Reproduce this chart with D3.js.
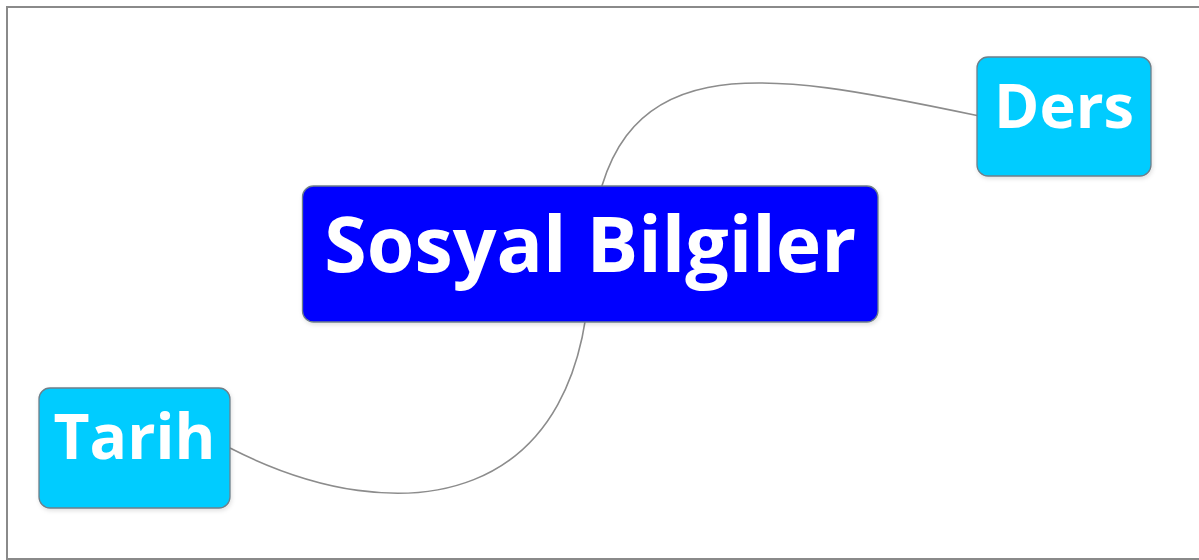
<!DOCTYPE html>
<html>
<head>
<meta charset="utf-8">
<script src="https://cdn.jsdelivr.net/npm/d3@7"></script>
<style>
html,body{margin:0;padding:0;background:#fff;overflow:hidden;}
svg{display:block;}
</style>
</head>
<body>
<svg id="chart" width="1199" height="560"></svg>
<script>
// ---- data ----
const nodeLabels = ["Sosyal Bilgiler", "Ders", "Tarih"];
const nodeParents = [-1, 0, 0];
const nodeLevels = [0, 1, 1];

// ---- layout (box geometry in px) ----
const boxX = [302.5, 977, 39];
const boxY = [186, 57, 388];
const boxW = [575.5, 174, 191];
const boxH = [136, 119, 120];
const textW = [532, 140, 162];
const textBase = [272, 128, 459];
// link shapes: cubic control points relative to parent centre -> child anchor
const linkAnchors = [null, [977, 115.5], [230, 448]];
const linkC1 = [null, [605, 40], [590, 510]];
const linkC2 = [null, [760, 70], [400, 535]];

const fillByLevel = ["#0000ff", "#00ccff"];

const svg = d3.select("#chart");

const defs = svg.append("defs");
const f = defs.append("filter").attr("id", "sh").attr("x", "-10%").attr("y", "-10%").attr("width", "120%").attr("height", "130%");
f.append("feDropShadow").attr("dx", 1).attr("dy", 2).attr("stdDeviation", 2).attr("flood-color", "#000").attr("flood-opacity", 0.12);

// frame
svg.append("rect")
  .attr("x", 7).attr("y", 7).attr("width", 1210).attr("height", 552)
  .attr("fill", "none").attr("stroke", "#8a8a8a").attr("stroke-width", 2);

const nodes = nodeLabels.map((label, i) => ({
  i, label, parent: nodeParents[i], level: nodeLevels[i],
  x: boxX[i], y: boxY[i], w: boxW[i], h: boxH[i],
  cx: boxX[i] + boxW[i] / 2, cy: boxY[i] + boxH[i] / 2
}));

// links
const linkG = svg.append("g");
nodes.filter(n => n.parent >= 0).forEach(n => {
  const p = nodes[n.parent];
  const path = d3.path();
  path.moveTo(p.cx, p.cy);
  path.bezierCurveTo(linkC1[n.i][0], linkC1[n.i][1], linkC2[n.i][0], linkC2[n.i][1], linkAnchors[n.i][0], linkAnchors[n.i][1]);
  linkG.append("path").attr("d", path.toString())
    .attr("fill", "none").attr("stroke", "#8c8c8c").attr("stroke-width", 1.6);
});

// nodes
const ng = svg.append("g").selectAll("g").data(nodes).join("g");
ng.append("rect")
  .attr("x", d => d.x).attr("y", d => d.y)
  .attr("width", d => d.w).attr("height", d => d.h)
  .attr("rx", 11).attr("ry", 11)
  .attr("fill", d => fillByLevel[d.level])
  .attr("stroke", "#6e7f8a").attr("stroke-width", 1.3)
  .attr("filter", "url(#sh)");

ng.append("text")
  .attr("x", d => d.cx)
  .attr("y", d => textBase[d.i])
  .attr("text-anchor", "middle")
  .attr("fill", "#ffffff")
  .attr("font-family", "'Open Sans', 'Noto Sans', sans-serif")
  .attr("font-weight", 700)
  .attr("font-size", 70)
  .text(d => d.label)
  .each(function(d) {
    const w = this.getComputedTextLength();
    const fs = 70 * textW[d.i] / w;
    d3.select(this).attr("font-size", fs);
  });
</script>
</body>
</html>
